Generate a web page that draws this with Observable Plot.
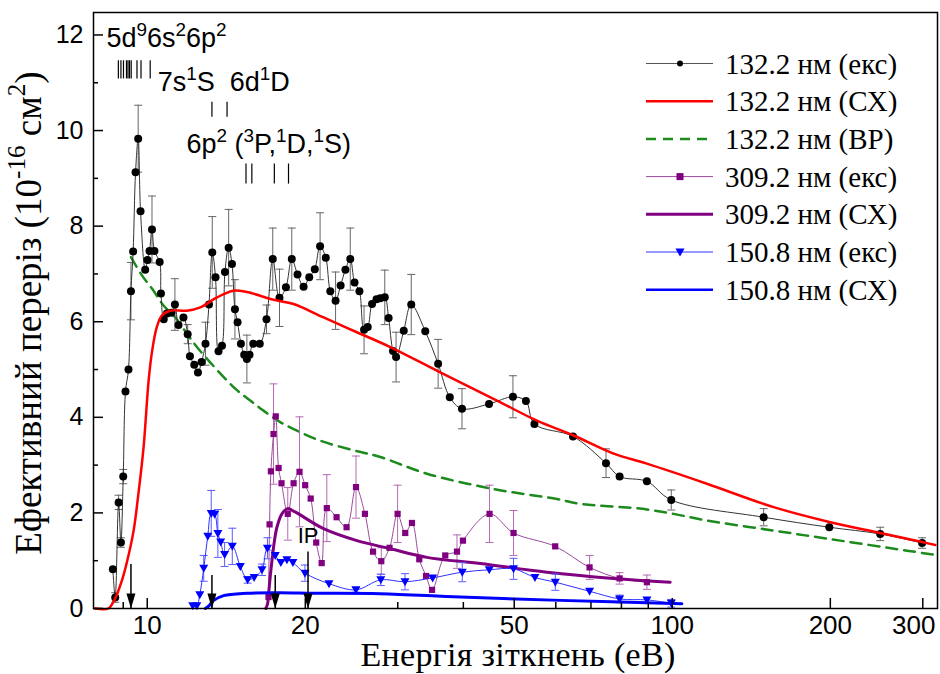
<!DOCTYPE html>
<html><head><meta charset="utf-8">
<script src="https://cdn.jsdelivr.net/npm/d3@7"></script>
<script src="https://cdn.jsdelivr.net/npm/@observablehq/plot@0.6"></script>
<style>body{margin:0;background:#fff}#chart{width:940px;height:674px}</style>
</head><body><div id="chart"></div>
<script>
// ---------- data ----------
const xMajorTicks = [10, 20, 50, 100, 200, 300];
const xLabelTicks = [10, 20, 50, 100, 200];
const xLastTick = [300];
const xMinorTicks = [9, 30, 40, 60, 70, 80, 90];
const yMajorTicks = [0, 2, 4, 6, 8, 10, 12];
const yMinorTicks = [1, 3, 5, 7, 9, 11];

// 132.2 nm experiment
const blackE = [8.60,8.69,8.82,8.91,9.00,9.09,9.21,9.31,9.40,9.50,
  9.61,9.71,9.91,10.01,10.10,10.21,10.32,10.56,10.62,10.75,
  10.90,11.12,11.29,11.47,11.72,11.94,12.06,12.29,12.49,12.69,
  12.91,13.11,13.30,13.49,13.67,13.88,14.06,14.29,14.50,14.69,
  14.86,15.08,15.30,15.48,15.66,15.92,16.38,16.87,17.34,17.86,
  18.37,18.85,19.33,19.85,20.35,20.85,21.34,21.88,22.32,22.84,
  23.35,23.85,24.36,24.82,25.36,25.88,26.30,26.80,27.33,27.79,
  28.34,28.82,29.38,29.78,30.80,31.83,33.85,35.81,37.69,39.76,
  44.77,49.72,52.63,54.63,64.70,74.78,79.37,89.46,99.56,149.3,
  199.1,248.9,299.1];
const blackY = [0.82,0.23,2.22,1.38,2.76,4.54,5.00,6.64,7.47,9.13,
  9.83,8.31,7.09,7.29,7.48,7.93,7.48,7.25,6.59,6.05,
  6.17,6.19,6.36,5.93,6.09,5.74,5.28,5.10,4.94,5.16,
  5.54,6.36,7.45,6.93,5.38,5.50,7.04,7.55,7.21,6.26,
  5.99,5.54,5.31,5.22,5.31,5.54,5.54,6.05,7.31,6.50,
  6.72,7.31,6.99,6.73,6.93,7.10,7.58,7.34,6.64,6.44,
  6.76,7.09,7.31,6.82,6.64,5.83,5.89,6.37,6.47,6.49,
  6.51,6.08,5.39,5.26,5.81,6.36,5.80,5.12,4.42,4.18,
  4.28,4.43,4.34,3.86,3.60,3.04,2.76,2.66,2.27,1.91,
  1.70,1.56,1.37];
const blackErr = [0,0.1,0.15,0.1,0.15,0,0,0.6,0,0,
  0.7,0,0,0,0,0.7,0,0,0,0,
  0,0,0.54,0,0,0.2,0,0,0,0,
  0.45,0,0.75,0,0,0,0,0.8,0,0.62,
  0,0,0,0.5,0,0,0,0.3,0.65,0.6,
  0,0.65,0,0,0,0,0.7,0,0,0.6,
  0,0,0.65,0,0,0.5,0,0,0,0,
  0.57,0,0,0.52,0,0.63,0,0.51,0,0.42,
  0,0.44,0,0,0,0.3,0,0,0.21,0.18,
  0,0.14,0.11];

// 132.2 nm close-coupling (CX)
const redE = [7.96,8.43,8.65,8.95,9.16,9.42,9.61,9.84,10.06,10.22,10.43,10.66,11.06,11.90,12.62,13.58,14.60,15.48,17.40,19.00,21.67,25.08,29.03,36.15,46.36,55.24,64.86,77.31,89.46,116.4,156.0,199.1,248.9,299.1,317];
const redY = [0,0,0.17,0.59,1.0,1.63,2.36,3.37,4.77,5.40,5.89,6.13,6.23,6.23,6.30,6.51,6.65,6.62,6.46,6.37,6.09,5.78,5.47,4.94,4.35,3.93,3.62,3.24,3.03,2.61,2.12,1.81,1.58,1.39,1.33];

// 132.2 nm (BP)
const greenE = [9.31,9.77,10.28,10.74,11.31,11.90,12.52,14.71,15.71,16.65,17.92,19.28,21.36,24.71,27.79,34.10,45.66,60.32,66.79,86.87,100.6,116.4,156.0,208.9,280.0,317];
const greenY = [7.35,6.97,6.65,6.34,6.09,5.75,5.43,4.60,4.35,4.14,3.90,3.72,3.51,3.31,3.17,2.82,2.50,2.29,2.19,2.09,1.98,1.84,1.63,1.42,1.21,1.12];

// 309.2 nm experiment
const purpleE = [17.02,17.10,17.20,17.40,17.57,17.79,18.02,18.52,19.00,19.50,
  19.99,20.48,20.98,21.49,21.98,22.94,23.97,24.98,25.98,26.92,
  27.91,28.94,29.98,31.00,31.93,32.97,33.96,34.87,36.95,38.90,
  39.93,44.87,49.85,59.84,69.58,79.37,89.46];
const purpleY = [0.24,1.76,2.87,3.65,4.02,2.94,2.62,1.98,2.62,2.86,
  2.58,2.30,1.38,0.95,2.10,1.91,1.70,2.54,1.98,1.19,
  0.99,1.27,1.98,1.58,1.79,1.03,0.68,0.39,1.11,1.19,
  1.42,1.98,1.58,1.30,0.86,0.63,0.55];
const purpleErr = [0,0,0,1.05,0,0,0,0.55,0,1.15,
  0,0,0,0,0.7,0,0,0.65,0,0,
  0.28,0,0.6,0,0,0,0,0,0,0.35,
  0,0.6,0.47,0,0.25,0.12,0.15];

// 309.2 nm (CX)
const purpleFitE = [16.82,16.95,17.05,17.16,17.28,17.45,17.66,18.05,18.50,19.13,21.67,25.08,29.03,34.10,43.07,57.71,77.31,99.1];
const purpleFitY = [0,0.1,0.38,0.7,1.0,1.38,1.70,1.98,2.09,2.02,1.67,1.42,1.25,1.07,0.94,0.76,0.63,0.55];

// 150.8 nm experiment
const blueE = [12.21,12.43,12.59,12.81,13.04,13.24,13.44,13.63,13.80,14.04,
  14.52,15.04,15.53,15.98,16.54,16.94,17.53,17.97,18.45,18.94,
  19.97,22.19,24.97,27.85,30.97,34.96,39.81,44.81,49.85,54.75,
  59.87,69.58,79.37,89.46,99.56];
const blueY = [0.06,0.06,0.29,0.84,1.51,1.99,1.97,1.57,1.39,1.13,
  1.30,0.88,0.60,0.65,0.81,1.26,1.11,0.96,1.02,0.96,
  0.74,0.52,0.39,0.60,0.56,0.64,0.76,0.81,0.83,0.65,
  0.55,0.36,0.20,0.18,0.11];
const blueErr = [0,0,0,0.27,0,0.48,0,0.5,0,0.25,
  0.38,0,0.07,0,0.12,0.22,0,0,0,0,
  0.17,0,0.05,0.12,0.17,0,0.2,0,0.22,0,
  0.17,0,0.08,0,0.08];

// 150.8 nm (CX)
const blueFitE = [12.90,13.12,13.38,13.98,15.48,17.92,20.74,27.79,39.46,61.19,104.3];
const blueFitY = [0,0.06,0.17,0.27,0.32,0.33,0.32,0.31,0.24,0.17,0.10];

// threshold arrows
const arrowE = [9.31, 13.28, 17.53, 20.24];
const arrowTop = [0.92, 0.69, 0.69, 1.18];
const arrowLabel = ["", "", "", "IP"];

// energy-level bars
const level1E = [8.81,8.91,9.01,9.13,9.19,9.25,9.32,9.56,9.73,10.13];
const level2E = [13.28,14.19];
const level3E = [15.42,15.82,17.46,18.58];
const levelBand = [[11.08,11.46],[10.28,10.59],[8.88,9.30]];

// annotation texts (part, isSuperscript)
const annotParts = [
  [["5d",0],["9",1],["6s",0],["2",1],["6p",0],["2",1]],
  [["7s",0],["1",1],["S",0]],
  [["6d",0],["1",1],["D",0]],
  [["6p",0],["2",1],[" (",0],["3",1],["P,",0],["1",1],["D,",0],["1",1],["S)",0]]
];
const annotE = [8.38, 10.49, 14.39, 11.90];
const annotY = [11.74, 10.82, 10.82, 9.51];

const legendLabels = ["132.2 нм (екс)","132.2 нм (СХ)","132.2 нм (ВР)","309.2 нм (екс)","309.2 нм (СХ)","150.8 нм (екс)","150.8 нм (СХ)"];
const xLabel = "Енергія зіткнень (еВ)";
const yLabelParts = [["Ефективний переріз (10",0],["-16",1],[" см",0],["2",1],[")",0]];

// ---------- tables ----------
const rows = (E, Y, Er) => E.map((e, i) => ({x: e, y: Y[i], err: Er ? Er[i] : 0}));
const black = rows(blackE, blackY, blackErr);
const red = rows(redE, redY);
const green = rows(greenE, greenY);
const purple = rows(purpleE, purpleY, purpleErr);
const purpleFit = rows(purpleFitE, purpleFitY);
const blue = rows(blueE, blueY, blueErr);
const blueFit = rows(blueFitE, blueFitY);
const arrows = arrowE.map((e, i) => ({x: e, top: arrowTop[i], label: arrowLabel[i]}));
const levels = [level1E, level2E, level3E].flatMap((g, k) => g.map(e => ({x: e, y1: levelBand[k][0], y2: levelBand[k][1]})));

// ---------- symbols ----------
const capSym = {draw(c) { c.moveTo(-4, 0); c.lineTo(4, 0); }};
const downTri = {draw(c) { c.moveTo(-4.5, -3.5); c.lineTo(4.5, -3.5); c.lineTo(0, 4.5); c.closePath(); }};
const arrowHead = {draw(c) { c.moveTo(0, 0); c.lineTo(-4.5, -15); c.lineTo(4.5, -15); c.closePath(); }};

function errMarks(data, color) {
  const d = data.filter(r => r.err > 0);
  return [
    Plot.ruleX(d, {x: "x", y1: r => r.y - r.err, y2: r => r.y + r.err, stroke: color, strokeWidth: 1}),
    Plot.dot(d, {x: "x", y: r => r.y + r.err, symbol: capSym, stroke: color, fill: "none", strokeWidth: 1}),
    Plot.dot(d, {x: "x", y: r => r.y - r.err, symbol: capSym, stroke: color, fill: "none", strokeWidth: 1})
  ];
}

const plot = Plot.plot({
  width: 940, height: 674,
  marginLeft: 93, marginRight: 3, marginTop: 12, marginBottom: 66,
  x: {type: "log", domain: [7.9, 320]},
  y: {domain: [0, 12.47]},
  style: {fontFamily: "'Liberation Sans', Arial, sans-serif", fontSize: "25px", color: "black", background: "white"},
  marks: [
    Plot.ruleX(levels, {x: "x", y1: "y1", y2: "y2", stroke: "black", strokeWidth: 1.2}),
    Plot.line(green, {x: "x", y: "y", stroke: "#1c8a1c", strokeWidth: 2.5, strokeDasharray: "11,7", curve: "catmull-rom"}),
    ...errMarks(black, "#666"),
    Plot.line(black, {x: "x", y: "y", stroke: "#333", strokeWidth: 1, curve: "catmull-rom"}),
    Plot.dot(black, {x: "x", y: "y", r: 4, fill: "black"}),
    Plot.line(red, {x: "x", y: "y", stroke: "#ff0000", strokeWidth: 2.5, curve: "catmull-rom"}),
    ...errMarks(purple, "#b46ab4"),
    Plot.line(purple, {x: "x", y: "y", stroke: "#9a4a9a", strokeWidth: 1, curve: "catmull-rom"}),
    Plot.dot(purple, {x: "x", y: "y", symbol: "square", r: 3.5, fill: "#800080"}),
    Plot.line(purpleFit, {x: "x", y: "y", stroke: "#800080", strokeWidth: 3, curve: "catmull-rom"}),
    ...errMarks(blue, "#5a5aff"),
    Plot.line(blue, {x: "x", y: "y", stroke: "#3030ff", strokeWidth: 1, curve: "catmull-rom"}),
    Plot.dot(blue, {x: "x", y: "y", symbol: downTri, fill: "#0000ff", stroke: "none"}),
    Plot.line(blueFit, {x: "x", y: "y", stroke: "#0000ff", strokeWidth: 3, curve: "catmull-rom"}),
    Plot.ruleX(arrows, {x: "x", y1: 0, y2: "top", stroke: "black", strokeWidth: 1.5}),
    Plot.dot(arrows, {x: "x", y: () => 0, symbol: arrowHead, fill: "black", stroke: "none"}),
    Plot.text(arrows, {x: "x", y: "top", text: "label", dy: -16, fontSize: 22, fill: "black"}),
    // axes
    Plot.axisX({ticks: xMajorTicks, tickSize: -10, tickFormat: () => "", label: null, strokeWidth: 1.5}),
    Plot.axisX({ticks: xLabelTicks, tickSize: 0, tickPadding: 7, tickFormat: d => String(d), label: null, fontSize: 26}),
    Plot.axisX({ticks: xLastTick, tickSize: 0, tickPadding: 7, dx: -9, tickFormat: d => String(d), label: null, fontSize: 26}),
    Plot.axisX({ticks: xMinorTicks, tickSize: -6, tickFormat: () => "", label: null, strokeWidth: 1.5}),
    Plot.axisY({ticks: yMajorTicks, tickSize: -10, tickPadding: 20, tickFormat: d => String(d), label: null, fontSize: 25, strokeWidth: 1.5}),
    Plot.axisY({ticks: yMinorTicks, tickSize: -5, tickFormat: () => "", label: null, strokeWidth: 1.5}),
    Plot.frame({stroke: "black", strokeWidth: 1.5})
  ]
});
document.getElementById("chart").appendChild(plot);

// ---------- overlays ----------
const svg = d3.select(plot);
const xs = plot.scale("x"), ys = plot.scale("y");

function richText(sel, parts, fs, supRatio = 0.68) {
  let shifted = false;
  parts.forEach(([t, sup]) => {
    const ts = sel.append("tspan").text(t);
    if (sup && !shifted) { ts.attr("font-size", fs * supRatio).attr("dy", -fs * 0.42); shifted = true; }
    else if (sup) { ts.attr("font-size", fs * supRatio); }
    else if (!sup && shifted) { ts.attr("dy", fs * 0.42); shifted = false; }
  });
}

annotParts.forEach((parts, i) => {
  const t = svg.append("text")
    .attr("x", xs.apply(annotE[i])).attr("y", ys.apply(annotY[i]))
    .attr("text-anchor", "start")
    .attr("font-family", "'Liberation Sans', Arial, sans-serif").attr("font-size", 27).attr("fill", "black");
  richText(t, parts, 27, 0.7);
});

svg.append("text").attr("x", 518).attr("y", 666).attr("text-anchor", "middle")
  .attr("font-family", "'Liberation Serif', 'Times New Roman', serif").attr("font-size", 34)
  .attr("letter-spacing", 0.3).attr("fill", "black").text(xLabel);
const yl = svg.append("text").attr("transform", "translate(41,313) rotate(-90)").attr("text-anchor", "middle")
  .attr("font-family", "'Liberation Serif', 'Times New Roman', serif").attr("font-size", 37).attr("fill", "black");
richText(yl, yLabelParts, 37);

const legStyles = [
  {stroke: "#555", sw: 1, dash: null, m: "circle", mf: "black"},
  {stroke: "#ff0000", sw: 2.5, dash: null},
  {stroke: "#1c8a1c", sw: 2.5, dash: "10,7"},
  {stroke: "#9a4a9a", sw: 1, dash: null, m: "square", mf: "#800080"},
  {stroke: "#800080", sw: 3, dash: null},
  {stroke: "#3030ff", sw: 1, dash: null, m: "tri", mf: "#0000ff"},
  {stroke: "#0000ff", sw: 2.5, dash: null}
];
const lg = svg.append("g");
legendLabels.forEach((lab, i) => {
  const y = 63.5 + i * 37.7, s = legStyles[i];
  lg.append("line").attr("x1", 646).attr("x2", 713).attr("y1", y).attr("y2", y)
    .attr("stroke", s.stroke).attr("stroke-width", s.sw).attr("stroke-dasharray", s.dash);
  if (s.m === "circle") lg.append("circle").attr("cx", 680).attr("cy", y).attr("r", 3).attr("fill", s.mf);
  if (s.m === "square") lg.append("rect").attr("x", 676.5).attr("y", y - 3.5).attr("width", 7).attr("height", 7).attr("fill", s.mf);
  if (s.m === "tri") lg.append("path").attr("d", `M${675.5},${y - 3.5}L${684.5},${y - 3.5}L680,${y + 4.5}Z`).attr("fill", s.mf);
  lg.append("text").attr("x", 725).attr("y", y + 10).attr("text-anchor", "start")
    .attr("font-family", "'Liberation Serif', 'Times New Roman', serif").attr("font-size", 29).attr("fill", "black").text(lab);
});
</script></body></html>
